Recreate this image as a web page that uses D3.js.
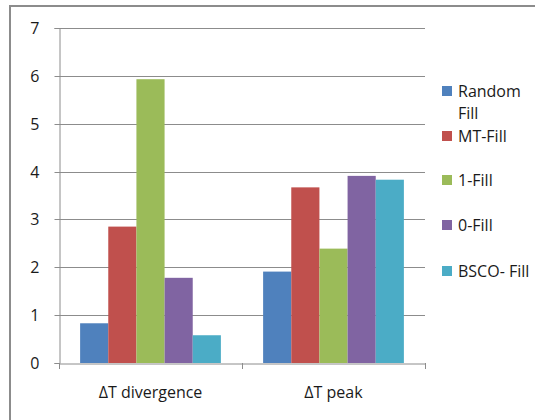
<!DOCTYPE html>
<html>
<head>
<meta charset="utf-8">
<script src="https://cdn.jsdelivr.net/npm/d3@7"></script>
<style>
  html, body { margin: 0; padding: 0; background: #fff; }
  svg { display: block; }
  text { font-family: "Open Sans", "Liberation Sans", sans-serif; fill: #1a1a1a; }
</style>
</head>
<body>
<svg id="chart" width="535" height="420"></svg>
<script>
// Categories along the x axis
const categories = ["\u0394T divergence", "\u0394T peak"];
// Fill strategies (series) and their colours
const seriesNames = ["Random Fill", "MT-Fill", "1-Fill", "0-Fill", "BSCO- Fill"];
const seriesColors = ["#4f81bd", "#c0504d", "#9bbb59", "#8064a2", "#4bacc6"];
// Values per series, one per category
const randomFill = [0.83, 1.91];
const mtFill = [2.85, 3.67];
const oneFill = [5.93, 2.39];
const zeroFill = [1.78, 3.91];
const bscoFill = [0.58, 3.83];
const yTicks = [0, 1, 2, 3, 4, 5, 6, 7];

const seriesValues = [randomFill, mtFill, oneFill, zeroFill, bscoFill];

const svg = d3.select("#chart");

// Chart frame
svg.append("rect")
  .attr("x", 10).attr("y", 6)
  .attr("width", 540).attr("height", 430)
  .attr("fill", "none")
  .attr("stroke", "#8c8c8c")
  .attr("stroke-width", 2);

const plot = { left: 59, right: 425, top: 28, bottom: 363 };

const y = d3.scaleLinear().domain([0, 7]).range([plot.bottom, plot.top]);
const x0 = d3.scaleBand().domain(categories).range([plot.left, plot.right]).paddingInner(0).paddingOuter(0);
// Gap of 150% of a bar width per category, split on both sides
const x1 = d3.scaleBand().domain(d3.range(seriesNames.length))
  .range([0, x0.bandwidth()]).paddingInner(0).paddingOuter(0.75);

// Horizontal gridlines
svg.append("g")
  .selectAll("line")
  .data(yTicks.filter(d => d > 0))
  .join("line")
  .attr("x1", plot.left).attr("x2", plot.right)
  .attr("y1", d => Math.round(y(d)) + 0.5).attr("y2", d => Math.round(y(d)) + 0.5)
  .attr("stroke", "#8c8c8c").attr("stroke-width", 1);

// Y axis
const yAxis = svg.append("g")
  .attr("transform", `translate(${plot.left + 0.5},0)`)
  .call(d3.axisLeft(y).tickValues(yTicks).tickSize(5).tickPadding(15).tickFormat(d3.format("d")));
yAxis.select(".domain").attr("stroke", "#8c8c8c");
yAxis.selectAll(".tick line").attr("stroke", "#8c8c8c");
yAxis.selectAll(".tick text").style("font-size", "16px").attr("fill", "#1a1a1a");
yAxis.selectAll(".tick").attr("transform", d => `translate(0,${Math.round(y(d)) + 0.5})`);

// Bars
const groups = svg.append("g")
  .selectAll("g")
  .data(categories)
  .join("g")
  .attr("transform", d => `translate(${x0(d)},0)`);

groups.selectAll("rect")
  .data((c, ci) => seriesValues.map((vals, si) => ({ si, v: vals[ci] })))
  .join("rect")
  .attr("x", d => x1(d.si))
  .attr("width", x1.bandwidth())
  .attr("y", d => y(d.v))
  .attr("height", d => y(0) - y(d.v))
  .attr("fill", d => seriesColors[d.si]);

// X axis
const xAxis = svg.append("g")
  .attr("transform", `translate(0,${Math.round(plot.bottom) + 0.5})`)
  .call(d3.axisBottom(x0).tickSize(0).tickPadding(23));
xAxis.select(".domain").attr("stroke", "#8c8c8c");
xAxis.selectAll(".tick text").style("font-size", "16px").attr("fill", "#1a1a1a");
// Category separators
svg.append("g")
  .selectAll("line")
  .data([plot.left, x0(categories[1]), plot.right])
  .join("line")
  .attr("x1", d => Math.round(d) + 0.5).attr("x2", d => Math.round(d) + 0.5)
  .attr("y1", plot.bottom).attr("y2", plot.bottom + 6)
  .attr("stroke", "#8c8c8c");

// Legend
const legendItems = [
  { lines: ["Random", "Fill"], y: 91 },
  { lines: ["MT-Fill"], y: 136 },
  { lines: ["1-Fill"], y: 180 },
  { lines: ["0-Fill"], y: 225 },
  { lines: ["BSCO- Fill"], y: 271 }
];
const legend = svg.append("g");
legendItems.forEach((item, i) => {
  legend.append("rect")
    .attr("x", 442).attr("y", item.y - 5)
    .attr("width", 10).attr("height", 10)
    .attr("fill", seriesColors[i]);
  const t = legend.append("text")
    .attr("x", 458).attr("y", item.y + 5.5)
    .style("font-size", "16px");
  item.lines.forEach((ln, j) => {
    t.append("tspan").attr("x", 458).attr("dy", j === 0 ? 0 : 22).text(ln);
  });
});
</script>
</body>
</html>
